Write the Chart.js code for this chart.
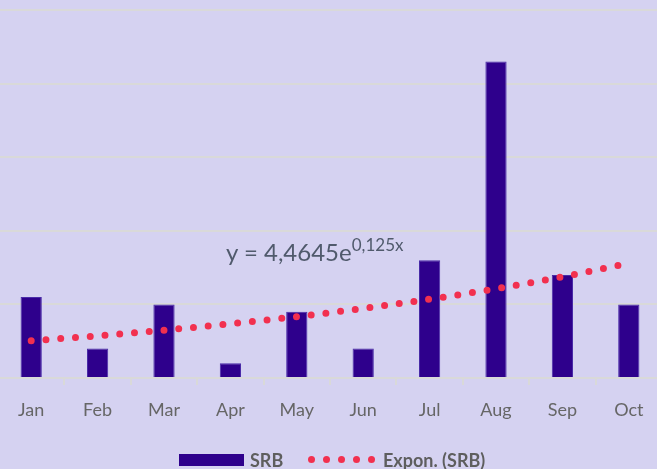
<!DOCTYPE html>
<html>
<head>
<meta charset="utf-8">
<script src="https://cdn.jsdelivr.net/npm/chart.js@4"></script>
<style>
  html, body { margin: 0; padding: 0; }
  body {
    width: 657px; height: 469px; overflow: hidden; position: relative;
    background: #D5D2F1; font-family: Lato, "Open Sans", sans-serif;
  }
  #wrap { position: absolute; left: -2px; top: 0; width: 664px; height: 469px; }
  #equation {
    position: absolute; left: 226px; top: 237px; font-size: 24px; color: #505A6C;
    white-space: nowrap; line-height: 30px;
  }
  #equation sup { font-size: 17px; position: relative; top: -10px; vertical-align: baseline; }
  .legend { position: absolute; top: 450px; height: 20px; font-weight: bold; font-size: 18px; color: #5E5E5E; line-height: 20px; white-space: nowrap; }
  .swatch { position: absolute; left: 179px; top: 454px; width: 65px; height: 12px; background: #2E008C; }
  .dot { position: absolute; top: 455.5px; width: 7px; height: 7px; border-radius: 50%; background: #F2304F; }
</style>
</head>
<body>
<div id="wrap"><canvas id="srbChart"></canvas></div>
<div id="equation">y = 4,4645e<sup>0,125x</sup></div>
<div id="legend"></div>

<script>
const months = ['Jan', 'Feb', 'Mar', 'Apr', 'May', 'Jun', 'Jul', 'Aug', 'Sep', 'Oct'];
const srb = [11, 4, 10, 2, 9, 4, 16, 43, 14, 10];

// exponential trendline y = a * e^(b*x), x counted from 1
const trendA = 4.4645;
const trendB = 0.125;
const trend = months.map((m, i) => trendA * Math.exp(trendB * (i + 1)));

const yMax = 50;
const yStep = 10;

const barColor = '#2E008C';
const trendColor = '#F2304F';
const gridColor = '#D9D9D9';

function buildLegend() {
  const legend = document.getElementById('legend');
  const swatch = document.createElement('div');
  swatch.className = 'swatch';
  legend.appendChild(swatch);

  const srbLabel = document.createElement('div');
  srbLabel.className = 'legend';
  srbLabel.style.left = '250px';
  srbLabel.textContent = 'SRB';
  legend.appendChild(srbLabel);

  for (let i = 0; i < 5; i++) {
    const dot = document.createElement('div');
    dot.className = 'dot';
    dot.style.left = (307.5 + i * 15) + 'px';
    legend.appendChild(dot);
  }

  const trendLabel = document.createElement('div');
  trendLabel.className = 'legend';
  trendLabel.style.left = '383px';
  trendLabel.textContent = 'Expon. (SRB)';
  legend.appendChild(trendLabel);
}

Chart.defaults.font.family = 'Lato, "Open Sans", sans-serif';
Chart.defaults.animation = false;

const ctx = document.getElementById('srbChart').getContext('2d');

const chart = new Chart(ctx, {
  type: 'bar',
  data: {
    labels: months,
    datasets: [
      {
        type: 'line',
        label: 'Expon. (SRB)',
        data: trend,
        borderColor: trendColor,
        borderWidth: 7,
        borderDash: [0, 14.8],
        borderCapStyle: 'round',
        pointRadius: 0,
        fill: false,
        cubicInterpolationMode: 'monotone',
        order: 0
      },
      {
        label: 'SRB',
        data: srb,
        backgroundColor: barColor,
        borderColor: '#4A2CA8',
        borderWidth: 1,
        categoryPercentage: 1,
        barPercentage: 0.32,
        order: 1
      }
    ]
  },
  options: {
    responsive: true,
    maintainAspectRatio: false,
    layout: { padding: { top: 10, left: 0, right: 0, bottom: 0 } },
    plugins: {
      legend: { display: false },
      tooltip: { enabled: false }
    },
    scales: {
      x: {
        offset: true,
        grid: {
          display: true,
          offset: true,
          drawOnChartArea: false,
          drawTicks: true,
          tickLength: 7,
          color: gridColor,
          lineWidth: 2
        },
        border: { display: true, color: gridColor, width: 2 },
        ticks: {
          color: '#666666',
          font: { size: 18 },
          padding: 14
        },
        afterFit: scale => { scale.height = 91; }
      },
      y: {
        min: 0,
        max: yMax,
        ticks: { display: false, stepSize: yStep },
        grid: { color: gridColor, lineWidth: 2, drawTicks: false },
        border: { display: false },
        afterFit: scale => { scale.width = 0; }
      }
    }
  }
});

buildLegend();
</script>
</body>
</html>
